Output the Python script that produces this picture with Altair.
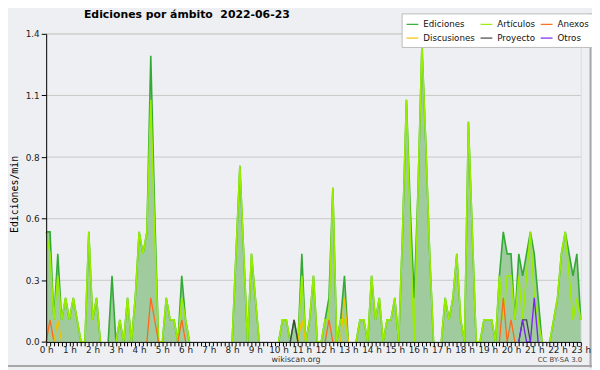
import altair as alt
import pandas as pd

# ---- data (10-minute steps, 00:00 .. 23:00) ----
hour_labels = [f"{h} h" for h in range(24)]

ediciones = [
    0.5, 0.5, 0.1, 0.4, 0.1, 0.2,      # 0 h
    0.1, 0.2, 0.1, 0, 0, 0.5,          # 1 h
    0.1, 0.2, 0, 0, 0, 0.3,            # 2 h
    0, 0.1, 0, 0.2, 0, 0.2,            # 3 h
    0.5, 0.4, 0.5, 1.3, 0.6, 0,        # 4 h
    0, 0.2, 0.1, 0.1, 0, 0.3,          # 5 h
    0.1, 0, 0, 0, 0, 0,                # 6 h
    0, 0, 0, 0, 0, 0,                  # 7 h
    0, 0.4, 0.8, 0.4, 0, 0.4,          # 8 h
    0.2, 0, 0, 0, 0, 0,                # 9 h
    0, 0.1, 0.1, 0, 0.1, 0,            # 10 h
    0.4, 0, 0.1, 0.3, 0, 0,            # 11 h
    0.1, 0.2, 0.7, 0, 0.1, 0.3,        # 12 h
    0, 0, 0, 0.1, 0.1, 0,              # 13 h
    0.3, 0.1, 0.2, 0, 0.1, 0.1,        # 14 h
    0.2, 0, 0.5, 1.1, 0.6, 0.2,        # 15 h
    0.7, 1.35, 0.9, 0.4, 0, 0,         # 16 h
    0, 0.2, 0.1, 0.2, 0.4, 0.1,        # 17 h
    0, 1.0, 0.5, 0, 0, 0.1,            # 18 h
    0.1, 0.1, 0, 0.3, 0.5, 0.4,        # 19 h
    0.4, 0.1, 0.4, 0.3, 0.4, 0.5,      # 20 h
    0.4, 0.2, 0, 0, 0, 0.1,            # 21 h
    0.2, 0.4, 0.5, 0.4, 0.3, 0.4,      # 22 h
    0.1,                               # 23 h
]

articulos = [
    0.5, 0.4, 0.1, 0.3, 0.1, 0.2,
    0.1, 0.2, 0.1, 0, 0, 0.5,
    0.1, 0.2, 0, 0, 0, 0,
    0, 0.1, 0, 0.2, 0, 0.2,
    0.5, 0.4, 0.5, 1.1, 0.5, 0,
    0, 0.2, 0.1, 0.1, 0, 0.2,
    0.1, 0, 0, 0, 0, 0,
    0, 0, 0, 0, 0, 0,
    0, 0.4, 0.8, 0.4, 0, 0.4,
    0.2, 0, 0, 0, 0, 0,
    0, 0.1, 0.1, 0, 0, 0,
    0.3, 0, 0.1, 0.3, 0, 0,
    0.1, 0.1, 0.7, 0, 0.1, 0.1,
    0, 0, 0, 0.1, 0.1, 0,
    0.3, 0.1, 0.2, 0, 0.1, 0.1,
    0.2, 0, 0.5, 1.1, 0.5, 0,
    0.7, 1.35, 0.9, 0.4, 0, 0,
    0, 0.2, 0.1, 0.2, 0.4, 0.1,
    0, 1.0, 0.5, 0, 0, 0.1,
    0.1, 0.1, 0, 0.3, 0.1, 0.3,
    0.3, 0.1, 0.3, 0.1, 0.3, 0.5,
    0.2, 0.1, 0, 0, 0, 0.1,
    0.2, 0.4, 0.5, 0.3, 0.1, 0.2,
    0.1,
]

# sparse series: only the non-zero 10-minute points
anexos = {"00:10": 0.1, "04:30": 0.2, "04:40": 0.1, "05:50": 0.1,
          "12:10": 0.1, "19:40": 0.2, "20:00": 0.1}
discusiones = {"00:30": 0.1, "11:00": 0.1, "12:50": 0.2}
proyecto = {"10:40": 0.1, "20:30": 0.1, "20:40": 0.1}
otros = {"20:30": 0.1, "21:00": 0.2}

series_names = ["Ediciones", "Artículos", "Anexos", "Discusiones", "Proyecto", "Otros"]
series_colors = ["#33aa33", "#99ee00", "#ff6a1a", "#f2c200", "#444444", "#7a22ee"]

y_major = [0.28, 0.56, 0.84, 1.12, 1.4]
y_ticks = [round(i * 0.07, 2) for i in range(21)]
x_ticks = [i / 6 for i in range(139)]

# ---- build tables ----
n = len(ediciones)
times = [i / 6 for i in range(n)]


def idx(hhmm):
    h, m = map(int, hhmm.split(":"))
    return h * 6 + m // 10


def expand(d):
    arr = [0.0] * n
    for k, v in d.items():
        arr[idx(k)] = v
    return arr


def line_vals(vals):
    out = []
    for i, v in enumerate(vals):
        prev = vals[i - 1] if i > 0 else 0
        nxt = vals[i + 1] if i < n - 1 else 0
        out.append(v if (v or prev or nxt) else None)
    return out


all_series = [ediciones, articulos, expand(anexos), expand(discusiones),
              expand(proyecto), expand(otros)]

X = alt.X("t:Q", scale=alt.Scale(domain=[0, 23], nice=False, zero=False),
          axis=alt.Axis(values=x_ticks,
                        labelExpr="abs(datum.value - round(datum.value)) < 0.01 ? round(datum.value) + ' h' : ''",
                        tickSize=4, tickColor="#000", domainColor="#000",
                        labelOverlap=False, labelFlush=False, labelBound=False,
                        labelFont="DejaVu Sans", labelFontSize=9, labelColor="#222",
                        labelPadding=0, grid=False, title=None, zindex=1))

major_test = "abs(datum.value/0.28 - round(datum.value/0.28)) < 0.01"
Y = alt.Y("v:Q", scale=alt.Scale(domain=[0, 1.4], nice=False, zero=True),
          axis=alt.Axis(values=y_ticks,
                        labelExpr=f"{major_test} ? format(datum.value, '.1f') : ''",
                        tickSize={"condition": {"test": major_test, "value": 5}, "value": 3},
                        tickColor="#000", domainColor="#000",
                        labelOverlap=False, labelFont="DejaVu Sans", labelFontSize=9,
                        labelColor="#222", labelPadding=2, grid=False, zindex=1,
                        title="Ediciones/min", titleFont="DejaVu Sans Mono",
                        titleFontSize=10, titleFontWeight="normal", titleColor="#000",
                        titleAngle=270, titleAlign="center", titleBaseline="top",
                        titleX=-37.5, titleY=162.3))

color_scale = alt.Scale(domain=series_names, range=series_colors)
legend = alt.Legend(title=None, orient="none", legendX=360.3, legendY=-20.7,
                    columns=3, direction="horizontal", symbolType="stroke", symbolSize=144,
                    symbolStrokeWidth=1.2, labelFont="DejaVu Sans", labelFontSize=8.8,
                    labelColor="#111", fillColor="white", strokeColor="#bbbbbb",
                    padding=4, columnPadding=2, rowPadding=2, labelOffset=4)

grid = alt.Chart(pd.DataFrame({"v": y_major})).mark_rule(
    color="#c8c8c8", strokeWidth=1).encode(y=alt.Y("v:Q", scale=alt.Scale(domain=[0, 1.4], nice=False)))

area = alt.Chart(pd.DataFrame({"t": times, "v": ediciones})).mark_area(
    color="#9fcb9f", opacity=1).encode(x=X, y=Y)

layers = [grid, area]
for name, vals in zip(series_names, all_series):
    df = pd.DataFrame({"t": times, "v": line_vals(vals), "s": name})
    w = 1.6 if name in ("Ediciones", "Artículos") else 1.3
    layers.append(
        alt.Chart(df).mark_line(strokeWidth=w, invalid="break-paths-filter-domains").encode(
            x=X, y=Y, color=alt.Color("s:N", scale=color_scale, legend=legend)))

# decoration: legend shadow and outer frame (right / bottom edges)
shadow = alt.Chart(pd.DataFrame({"a": [0]})).mark_rect(color="#888888").encode(
    x=alt.value(363.3), x2=alt.value(548.8), y=alt.value(-17.7), y2=alt.value(13.3))
frame_r = alt.Chart(pd.DataFrame({"a": [0]})).mark_rule(color="#a8a8a8", strokeWidth=2).encode(
    x=alt.value(551.8), y=alt.value(-20.5), y2=alt.value(338.3))
frame_b = alt.Chart(pd.DataFrame({"a": [0]})).mark_rule(color="#a8a8a8", strokeWidth=2).encode(
    x=alt.value(-38.7), x2=alt.value(553.3), y=alt.value(336.8))

site = alt.Chart(pd.DataFrame({"txt": ["wikiscan.org"]})).mark_text(
    font="DejaVu Sans", fontSize=8, color="#333", align="center", baseline="middle").encode(
    text="txt:N", x=alt.value(253.3), y=alt.value(330.3))
lic = alt.Chart(pd.DataFrame({"txt": ["CC BY-SA 3.0"]})).mark_text(
    font="DejaVu Sans", fontSize=7, color="#444", align="right", baseline="middle").encode(
    text="txt:N", x=alt.value(543.3), y=alt.value(330.3))

layers += [shadow, frame_r, frame_b, site, lic]

chart = alt.layer(*layers).properties(
    width=541.9, height=312.3,
    autosize="none",
    padding={"left": 38.7, "top": 23.7, "right": 11.4, "bottom": 26},
    title=alt.TitleParams("Ediciones por ámbito\u00a0 2022-06-23", anchor="start",
                          frame="group", dx=38.3, dy=15, font="DejaVu Sans", fontSize=11,
                          fontWeight="bold", color="#000", offset=8),
).configure_view(stroke=None).configure(background="#eeeff2")

chart.save("out.html", embed_options={"renderer": "svg", "actions": False})
